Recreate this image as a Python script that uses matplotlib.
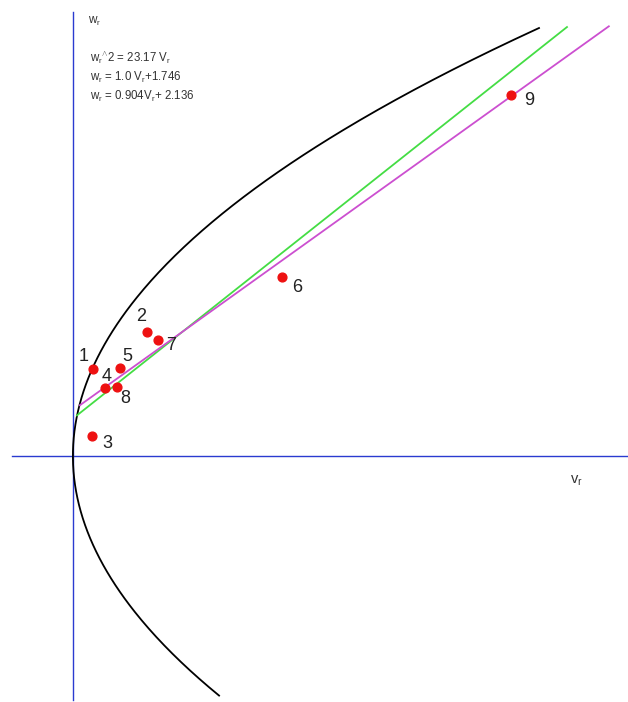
import numpy as np
import matplotlib.pyplot as plt

plt.rcParams['font.family'] = ['Liberation Sans', 'DejaVu Sans']
plt.rcParams['mathtext.fontset'] = 'custom'
plt.rcParams['mathtext.rm'] = 'Liberation Sans'
plt.rcParams['mathtext.it'] = 'Liberation Sans'

# data (v_r, w_r)
labels = ['1', '2', '3', '4', '5', '6', '7', '8', '9']
v_pts = [0.75, 2.73, 0.69, 1.19, 1.75, 7.73, 3.17, 1.63, 16.21]
w_pts = [4.07, 5.81, 0.93, 3.16, 4.10, 8.35, 5.42, 3.20, 16.87]
lab_dx = [-0.37, -0.19, 0.60, 0.06, 0.28, 0.59, 0.48, 0.30, 0.68]
lab_dy = [0.58, 0.70, -0.37, 0.55, 0.57, -0.48, -0.28, -0.51, -0.27]

k_par = 23.17                 # w^2 = 23.17 v
a1, b1 = 1.0, 1.746           # green fit
a2, b2 = 0.904, 2.136         # magenta fit

fig = plt.figure(figsize=(6.28, 7.02), dpi=100)
ax = fig.add_axes([0, 0, 1, 1])
ax.axis('off')
ax.set_xlim(-2.70, 20.56)
ax.set_ylim(-11.50, 21.31)

# axes lines
ax.plot([-2.26, 20.56], [0, 0], color='#2a3bd0', lw=1.0)
ax.plot([0, 0], [-11.4, 20.75], color='#2a3bd0', lw=1.0)

# parabola
w = np.linspace(-11.2, 20.0, 400)
ax.plot(w**2 / k_par, w, color='black', lw=1.3)

# fitted lines
v1 = np.array([0.15, 18.3])
ax.plot(v1, a1 * v1 + b1, color='#44dd44', lw=1.3)
v2 = np.array([0.26, 19.85])
ax.plot(v2, a2 * v2 + b2, color='#cc4fd0', lw=1.3)

# points
ax.scatter(v_pts, w_pts, s=40, color='#ee1111', zorder=5)
for lb, x, y, dx, dy in zip(labels, v_pts, w_pts, lab_dx, lab_dy):
    ax.text(x + dx, y + dy, lb, fontsize=13, ha='center', va='center', color='#222222')

# axis names and equations
sub = r'$_{\mathrm{r}}$'
ax.text(0.55, 20.3, 'w' + sub, fontsize=8.5, ha='left', va='center', color='#333333')
ax.text(0.62, 18.6, 'w' + sub + r'$^{\wedge}$2 = 23.17 V' + sub, fontsize=8.3, ha='left', va='center', color='#333333')
ax.text(0.62, 17.7, 'w' + sub + ' = 1.0 V' + sub + '+1.746', fontsize=8.3, ha='left', va='center', color='#333333')
ax.text(0.62, 16.8, 'w' + sub + ' = 0.904V' + sub + '+ 2.136', fontsize=8.3, ha='left', va='center', color='#333333')
ax.text(18.4, -1.15, 'v' + sub, fontsize=10.5, ha='left', va='center', color='#333333')

fig.savefig('out.png', dpi=100, facecolor='white')
